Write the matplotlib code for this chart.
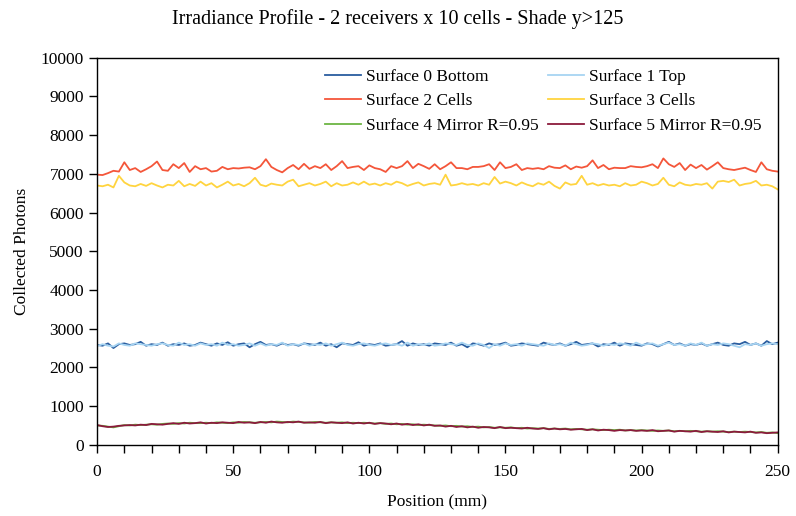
import matplotlib.pyplot as plt
import numpy as np

plt.rcParams['font.family'] = ['Liberation Serif', 'DejaVu Serif']

# positions (mm), one sample every 2 mm
pos = np.arange(0, 251, 2)

# Surface 0 Bottom
s0 = [2580, 2560, 2620, 2500, 2600, 2620, 2580, 2600, 2660, 2560,
      2600, 2580, 2640, 2560, 2600, 2580, 2620, 2560, 2580, 2640,
      2600, 2560, 2620, 2580, 2650, 2560, 2600, 2620, 2520, 2600,
      2660, 2580, 2600, 2560, 2620, 2580, 2600, 2560, 2620, 2600,
      2580, 2640, 2560, 2600, 2520, 2620, 2600, 2580, 2650, 2560,
      2600, 2580, 2620, 2560, 2580, 2600, 2680, 2560, 2620, 2580,
      2600, 2560, 2620, 2600, 2580, 2640, 2560, 2600, 2520, 2620,
      2600, 2560, 2620, 2580, 2600, 2640, 2560, 2580, 2620, 2600,
      2580, 2560, 2640, 2600, 2580, 2620, 2560, 2600, 2660, 2580,
      2600, 2620, 2540, 2600, 2580, 2640, 2560, 2620, 2600, 2580,
      2560, 2620, 2600, 2540, 2600, 2660, 2580, 2620, 2560, 2600,
      2580, 2620, 2560, 2600, 2640, 2580, 2560, 2620, 2600, 2660,
      2580, 2620, 2560, 2680, 2600, 2640]

# Surface 1 Top
s1 = [2550, 2600, 2560, 2540, 2620, 2580, 2560, 2620, 2600, 2580,
      2560, 2600, 2620, 2580, 2560, 2640, 2580, 2600, 2560, 2620,
      2580, 2600, 2560, 2640, 2580, 2600, 2560, 2580, 2620, 2560,
      2620, 2560, 2600, 2580, 2640, 2560, 2600, 2580, 2620, 2560,
      2600, 2580, 2620, 2560, 2600, 2640, 2580, 2560, 2600, 2620,
      2580, 2560, 2600, 2620, 2580, 2600, 2560, 2640, 2560, 2600,
      2580, 2620, 2560, 2580, 2620, 2600, 2580, 2640, 2580, 2560,
      2620, 2580, 2500, 2600, 2560, 2620, 2580, 2600, 2560, 2620,
      2600, 2580, 2560, 2620, 2580, 2600, 2560, 2640, 2600, 2560,
      2580, 2620, 2600, 2560, 2600, 2580, 2620, 2600, 2560, 2640,
      2580, 2600, 2620, 2560, 2600, 2640, 2580, 2600, 2560, 2620,
      2580, 2640, 2560, 2600, 2580, 2620, 2600, 2560, 2520, 2600,
      2580, 2620, 2560, 2600, 2620, 2600]

# Surface 2 Cells
s2 = [6980, 6970, 7020, 7080, 7060, 7300, 7100, 7150, 7050, 7120,
      7200, 7320, 7100, 7080, 7250, 7150, 7280, 7050, 7200, 7120,
      7150, 7060, 7080, 7180, 7120, 7150, 7140, 7160, 7170, 7120,
      7200, 7380, 7180, 7100, 7040, 7150, 7230, 7120, 7260, 7130,
      7200, 7150, 7250, 7100, 7200, 7330, 7150, 7180, 7200, 7100,
      7220, 7150, 7120, 7050, 7200, 7150, 7200, 7330, 7150, 7260,
      7200, 7130, 7250, 7120, 7200, 7300, 7150, 7150, 7120, 7180,
      7180, 7200, 7250, 7100, 7300, 7150, 7180, 7250, 7100, 7150,
      7130, 7150, 7120, 7200, 7160, 7150, 7220, 7120, 7190, 7160,
      7200, 7350, 7150, 7230, 7120, 7160, 7150, 7150, 7200, 7180,
      7170, 7200, 7250, 7150, 7400, 7250, 7180, 7280, 7100, 7240,
      7150, 7230, 7110, 7200, 7300, 7150, 7120, 7100, 7130, 7160,
      7100, 7050, 7300, 7120, 7080, 7060]

# Surface 3 Cells
s3 = [6700, 6680, 6720, 6650, 6950, 6780, 6700, 6680, 6740, 6690,
      6760, 6700, 6650, 6720, 6700, 6820, 6680, 6740, 6690, 6800,
      6700, 6760, 6650, 6720, 6800, 6700, 6740, 6680, 6760, 6900,
      6720, 6680, 6750, 6720, 6700, 6800, 6850, 6680, 6720, 6760,
      6700, 6740, 6800, 6680, 6760, 6700, 6720, 6780, 6720, 6800,
      6720, 6750, 6700, 6760, 6720, 6800, 6760, 6690, 6740, 6780,
      6700, 6740, 6760, 6720, 6980, 6700, 6720, 6760, 6720, 6740,
      6700, 6760, 6720, 6920, 6750, 6800, 6760, 6700, 6780, 6720,
      6680, 6760, 6720, 6800, 6690, 6620, 6780, 6720, 6740, 6950,
      6720, 6760, 6700, 6740, 6700, 6720, 6680, 6760, 6700, 6720,
      6800, 6760, 6700, 6740, 6900, 6720, 6680, 6780, 6720, 6700,
      6740, 6720, 6760, 6620, 6800, 6820, 6790, 6850, 6700, 6740,
      6760, 6820, 6700, 6720, 6680, 6600]

# Surface 4 Mirror
s4 = [500, 490, 470, 450, 480, 510, 500, 520, 510, 520,
      530, 520, 540, 550, 540, 560, 550, 570, 560, 560,
      570, 560, 580, 570, 560, 580, 570, 590, 580, 570,
      580, 590, 580, 600, 590, 580, 600, 590, 580, 570,
      590, 580, 570, 580, 570, 580, 560, 570, 560, 570,
      560, 550, 560, 540, 550, 530, 540, 520, 530, 510,
      520, 510, 500, 490, 500, 480, 490, 470, 480, 460,
      470, 450, 460, 440, 450, 440, 450, 430, 440, 420,
      430, 420, 430, 410, 420, 410, 420, 400, 410, 400,
      390, 400, 390, 380, 390, 380, 390, 370, 380, 370,
      380, 370, 360, 370, 360, 370, 350, 360, 350, 360,
      350, 340, 350, 340, 350, 340, 330, 340, 330, 340,
      330, 320, 330, 310, 320, 300]

# Surface 5 Mirror
s5 = [510, 480, 460, 470, 490, 500, 510, 500, 520, 510,
      540, 530, 520, 540, 560, 540, 570, 550, 560, 580,
      550, 570, 560, 580, 570, 560, 590, 570, 580, 560,
      590, 570, 600, 580, 570, 590, 580, 600, 570, 580,
      570, 590, 560, 580, 570, 560, 580, 550, 570, 550,
      570, 540, 560, 550, 530, 550, 520, 540, 510, 530,
      500, 520, 490, 500, 470, 490, 460, 480, 450, 470,
      440, 460, 450, 430, 460, 430, 440, 430, 420, 440,
      420, 410, 430, 400, 420, 400, 410, 390, 400, 410,
      380, 400, 370, 390, 380, 360, 380, 370, 380, 360,
      370, 360, 380, 350, 360, 370, 340, 360, 350, 340,
      360, 330, 350, 340, 330, 350, 320, 340, 330, 320,
      340, 310, 320, 300, 310, 320]

labels = ['Surface 0 Bottom', 'Surface 1 Top', 'Surface 2 Cells',
          'Surface 3 Cells', 'Surface 4 Mirror R=0.95', 'Surface 5 Mirror R=0.95']
colors = ['#2a5d9f', '#a7d4f2', '#f4563a', '#ffd43f', '#6cb543', '#8b1a3c']
series = [s0, s1, s2, s3, s4, s5]

fig = plt.figure(figsize=(7.96, 5.16), dpi=100)
ax = fig.add_axes([0.122, 0.138, 0.855, 0.75])

handles = []
for y, lab, c in zip(series, labels, colors):
    h, = ax.plot(pos, y, color=c, lw=1.3, label=lab)
    handles.append(h)

ax.set_xlim(0, 250)
ax.set_ylim(0, 10000)
ax.set_xticks(np.arange(0, 251, 50))
ax.set_xticks(np.arange(0, 251, 10), minor=True)
ax.set_yticks(np.arange(0, 10001, 1000))
ax.tick_params(which='both', direction='out', length=6, width=1, labelsize=12.5)
ax.tick_params(axis='x', pad=8)
for s in ax.spines.values():
    s.set_linewidth(1)

ax.set_xlabel('Position (mm)', fontsize=12.5, labelpad=10)
ax.set_ylabel('Collected Photons', fontsize=12.5, labelpad=8)
fig.suptitle('Irradiance Profile - 2 receivers x 10 cells - Shade y>125', fontsize=14.5, y=0.983)

# row-wise legend order (matplotlib fills columns first)
order = [0, 2, 4, 1, 3, 5]
ax.legend([handles[i] for i in order], [labels[i] for i in order],
          ncol=2, loc='upper left', frameon=False, fontsize=12.5,
          handlelength=2.1, handletextpad=0.3, columnspacing=0.5,
          labelspacing=0.48, borderaxespad=0, bbox_to_anchor=(0.324, 0.99))

fig.savefig('out.png', dpi=100)
